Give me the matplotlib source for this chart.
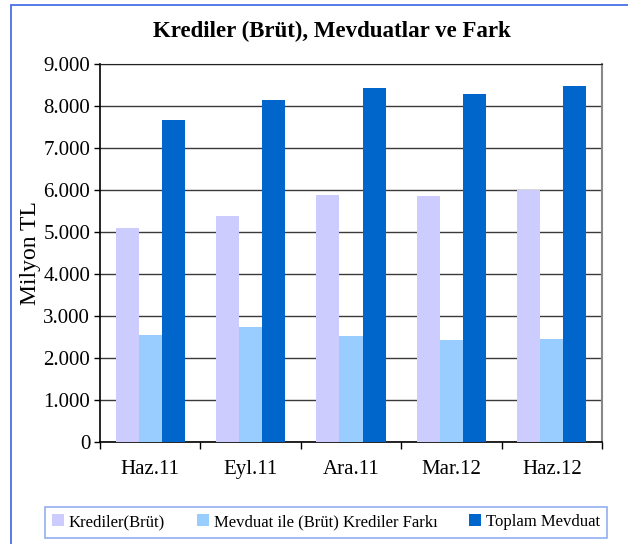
import matplotlib
matplotlib.use("Agg")
import matplotlib.pyplot as plt
from matplotlib.patches import Rectangle
from matplotlib.font_manager import FontProperties
import numpy as np

plt.rcParams['font.family'] = ['Liberation Serif', 'DejaVu Serif']

# data (Milyon TL)
donemler = ["Haz.11", "Eyl.11", "Ara.11", "Mar.12", "Haz.12"]
krediler = [5100, 5380, 5880, 5860, 6000]
fark = [2550, 2750, 2530, 2430, 2460]
toplam_mevduat = [7660, 8140, 8420, 8290, 8470]
seri_adlari = ["Krediler(Brüt)", "Mevduat ile (Brüt) Krediler Farkı", "Toplam Mevduat"]
renkler = ["#CCCCFF", "#99CCFF", "#0066CC"]

fig = plt.figure(figsize=(6.28, 5.44), dpi=100)
ax = fig.add_axes([100/628, 102/544, 502/628, 378/544])

x = np.arange(len(donemler))
w = 0.23
for i, (vals, ad, renk) in enumerate(zip([krediler, fark, toplam_mevduat], seri_adlari, renkler)):
    ax.bar(x + (i - 1) * w, vals, width=w, color=renk, label=ad, zorder=3)

ax.set_xlim(-0.5, len(donemler) - 0.5)
ax.set_ylim(0, 9000)
ax.set_yticks(np.arange(0, 9001, 1000))
ax.set_yticklabels(["0"] + ["{:,}".format(v).replace(",", ".") for v in range(1000, 9001, 1000)])
ax.yaxis.grid(True, color="#3a3a3a", linewidth=1.0, zorder=0)
ax.set_axisbelow(True)

ax.set_xticks(x)
ax.set_xticklabels(donemler)
ax.set_xticks(np.arange(-0.5, len(donemler)), minor=True)
ax.tick_params(axis="x", which="major", length=0, pad=13, labelsize=15)
ax.tick_params(axis="x", which="minor", length=5, width=1, direction="out")
ax.tick_params(axis="y", length=4, width=1, direction="out", labelsize=15, pad=3)

for s in ["left", "bottom"]:
    ax.spines[s].set_color("black")
    ax.spines[s].set_linewidth(1.2)
ax.spines["top"].set_color("#222222")
ax.spines["right"].set_color("#888888")
ax.spines["right"].set_linewidth(1.5)

ax.set_ylabel("Milyon TL", fontsize=17, labelpad=2)
fig.text(332/628, 1 - 31/544, "Krediler (Brüt), Mevduatlar ve Fark", ha="center", va="center",
         fontsize=16.5, fontweight="bold")

leg = fig.legend(loc="center", bbox_to_anchor=(326/628, 1 - 522/544), ncol=3,
                 prop=FontProperties(family="Liberation Serif", size=12),
                 frameon=True, fancybox=False, edgecolor="#7799EE", handlelength=0.7,
                 handleheight=0.7, handletextpad=0.3, columnspacing=1.9, borderpad=0.45)
leg.get_frame().set_linewidth(1.2)

# outer chart border
fig.patches.append(Rectangle((11/628, -0.1), 1, 1.1 - 5/544, transform=fig.transFigure,
                             fill=False, edgecolor="#4a6fe6", linewidth=1.3))

fig.savefig("out.png", dpi=100)
